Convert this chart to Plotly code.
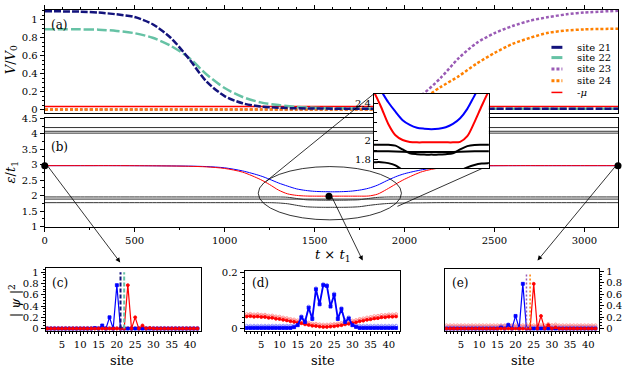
import plotly.graph_objects as go

W, H = 622, 373
FONT = "DejaVu Serif"

# ---------------- panel (a): gate potentials V/V0 against time ----------------
t_a = [0, 200, 300, 400, 500, 600, 700, 800, 900, 1000, 1100, 1200, 1300, 1400, 1500, 1600,
       1700, 1800, 1900, 2000, 2100, 2200, 2300, 2400, 2500, 2600, 2700, 2800, 2900, 3000, 3187]
v_site21 = [1.095, 1.09, 1.08, 1.06, 1.03, 0.95, 0.80, 0.57, 0.31, 0.15, 0.07, 0.035, 0.02, 0.014, 0.012, 0.01,
            0.01, 0.01, 0.01, 0.01, 0.01, 0.01, 0.01, 0.01, 0.01, 0.01, 0.01, 0.01, 0.01, 0.01, 0.01]
v_site22 = [0.895, 0.893, 0.89, 0.875, 0.85, 0.80, 0.71, 0.58, 0.39, 0.24, 0.14, 0.08, 0.05, 0.03, 0.02, 0.015,
            0.012, 0.01, 0.01, 0.01, 0.01, 0.01, 0.01, 0.01, 0.01, 0.01, 0.01, 0.01, 0.01, 0.01, 0.01]
v_site23 = [0.0, 0.0, 0.0, 0.0, 0.0, 0.0, 0.0, 0.0, 0.0, 0.0, 0.0, 0.0, 0.0, 0.0, 0.0, 0.0,
            0.0, 0.0, 0.01, 0.06, 0.17, 0.35, 0.57, 0.74, 0.85, 0.93, 0.99, 1.03, 1.06, 1.08, 1.10]
v_site24 = [0.0, 0.0, 0.0, 0.0, 0.0, 0.0, 0.0, 0.0, 0.0, 0.0, 0.0, 0.0, 0.0, 0.0, 0.0, 0.0,
            0.0, 0.0, 0.01, 0.04, 0.12, 0.25, 0.37, 0.51, 0.63, 0.73, 0.80, 0.855, 0.88, 0.893, 0.90]
t_ends = [0, 3187]
v_mu = [0.035, 0.035]

# ---------------- panel (b): spectrum eps/t1 against time ----------------
t_b = [0, 200, 400, 600, 800, 900, 1000, 1100, 1200, 1250, 1300, 1350, 1400, 1450, 1500, 1550, 1600,
       1650, 1700, 1750, 1800, 1850, 1900, 1950, 2000, 2100, 2200, 2300, 2400, 2600, 2800, 3000, 3187]
eps_blue = [2.97, 2.97, 2.97, 2.965, 2.955, 2.94, 2.90, 2.80, 2.64, 2.53, 2.41, 2.31, 2.22, 2.17, 2.14, 2.13, 2.125,
            2.13, 2.145, 2.18, 2.24, 2.34, 2.48, 2.61, 2.71, 2.84, 2.92, 2.95, 2.965, 2.97, 2.97, 2.97, 2.97]
eps_red = [2.97, 2.97, 2.97, 2.965, 2.95, 2.93, 2.88, 2.76, 2.52, 2.36, 2.18, 2.06, 2.01, 1.99, 1.985, 1.985, 1.985,
           1.985, 1.985, 1.985, 1.99, 2.05, 2.20, 2.37, 2.53, 2.78, 2.90, 2.95, 2.965, 2.97, 2.97, 2.97, 2.97]
eps_band_a = [1.96, 1.96, 1.96, 1.96, 1.96, 1.96, 1.96, 1.96, 1.96, 1.96, 1.96, 1.95, 1.91, 1.87, 1.86, 1.855, 1.855,
              1.855, 1.86, 1.87, 1.91, 1.945, 1.958, 1.96, 1.96, 1.96, 1.96, 1.96, 1.96, 1.96, 1.96, 1.96, 1.96]
eps_band_c = [1.775, 1.775, 1.775, 1.775, 1.775, 1.775, 1.775, 1.775, 1.775, 1.775, 1.765, 1.74, 1.69, 1.645, 1.63,
              1.625, 1.625, 1.625, 1.63, 1.645, 1.685, 1.72, 1.745, 1.76, 1.765, 1.77, 1.775, 1.775, 1.775, 1.775,
              1.775, 1.775, 1.775]
t_band_b = [0, 1300, 1450, 1750, 1900, 3187]
eps_band_b = [1.89, 1.89, 1.882, 1.882, 1.89, 1.89]
eps_upper = [4.20, 4.08, 4.02]
dot_t = [0, 1580, 3187]
dot_eps = [2.97, 1.985, 2.97]

# ---------------- panels (c), (d), (e): |psi|^2 on the chain ----------------
sites = list(range(1, 43))
c_blue = [0, 0, 0, 0, 0, 0, 0, 0, 0, 0, 0, 0, 0, 0.01, 0, 0.055, 0, 0.2, 0, 0.77, 0,
          0, 0, 0, 0, 0, 0, 0, 0, 0, 0, 0, 0, 0, 0, 0, 0, 0, 0, 0, 0, 0]
c_red = [0, 0, 0, 0, 0, 0, 0, 0, 0, 0, 0, 0, 0, 0, 0, 0, 0, 0, 0, 0, 0,
         0, 0.77, 0, 0.2, 0, 0.055, 0, 0.01, 0, 0, 0, 0, 0, 0, 0, 0, 0, 0, 0, 0, 0]
c_blue_open = [0.004, 0.004, 0.004, 0.004, 0.004, 0.004, 0.004, 0.004, 0.004, 0.004, 0.004, 0.004, 0.004, 0.004,
               0.004, 0.004, 0.004, 0.004, 0.004, 0.004, 0.004, 0.004, 0.004, 0.004, 0.004, 0.004, 0.004, 0.004,
               0.004, 0.004, 0.004, 0.004, 0.004, 0.004, 0.004, 0.004, 0.004, 0.004, 0.004, 0.004, 0.004, 0.004]
c_red_open = [0.012, 0.012, 0.012, 0.012, 0.012, 0.012, 0.012, 0.012, 0.012, 0.012, 0.012, 0.012, 0.012, 0.012,
              0.012, 0.012, 0.012, 0.012, 0.012, 0.012, 0.012, 0.012, 0.012, 0.012, 0.012, 0.012, 0.012, 0.012,
              0.012, 0.012, 0.012, 0.012, 0.012, 0.012, 0.012, 0.012, 0.012, 0.012, 0.012, 0.012, 0.012, 0.012]
c_gate_sites = [21, 22]
c_gate_top = 1.0

d_blue = [0.002, 0.002, 0.002, 0.002, 0.002, 0.002, 0.002, 0.002, 0.002, 0.002, 0.002, 0.002, 0.002, 0.005,
          0.012, 0.040, 0.023, 0.074, 0.034, 0.139, 0.086, 0.154, 0.151, 0.078, 0.12, 0.034, 0.069, 0.023,
          0.036, 0.012, 0.006, 0.002, 0.002, 0.002, 0.002, 0.002, 0.002, 0.002, 0.002, 0.002, 0.002, 0.002]
d_blue_open = [0.01, 0.01, 0.01, 0.01, 0.01, 0.01, 0.01, 0.01, 0.01, 0.01, 0.01, 0.01, 0.01, 0.012,
               0.018, 0.044, 0.03, 0.078, 0.04, 0.143, 0.092, 0.158, 0.155, 0.084, 0.124, 0.04, 0.073, 0.03,
               0.04, 0.018, 0.012, 0.01, 0.01, 0.01, 0.01, 0.01, 0.01, 0.01, 0.01, 0.01, 0.01, 0.01]
d_red = [0.043, 0.044, 0.042, 0.043, 0.041, 0.041, 0.038, 0.038, 0.035, 0.034, 0.031, 0.029, 0.026, 0.024,
         0.021, 0.019, 0.015, 0.013, 0.010, 0.009, 0.007, 0.006, 0.006, 0.007, 0.008, 0.010, 0.012, 0.015,
         0.017, 0.020, 0.022, 0.026, 0.028, 0.031, 0.033, 0.036, 0.037, 0.040, 0.040, 0.042, 0.042, 0.043]
d_red_open = [0.051, 0.052, 0.050, 0.051, 0.049, 0.049, 0.046, 0.046, 0.043, 0.042, 0.039, 0.037, 0.034, 0.032,
              0.029, 0.027, 0.023, 0.021, 0.018, 0.017, 0.015, 0.014, 0.014, 0.015, 0.016, 0.018, 0.020, 0.023,
              0.025, 0.028, 0.030, 0.034, 0.036, 0.039, 0.041, 0.044, 0.045, 0.048, 0.048, 0.050, 0.050, 0.051]

e_blue = [0, 0, 0, 0, 0, 0, 0, 0, 0, 0, 0, 0, 0, 0, 0, 0.02, 0, 0.06, 0, 0.22, 0,
          0.78, 0, 0, 0, 0, 0, 0, 0, 0, 0, 0, 0, 0, 0, 0, 0, 0, 0, 0, 0, 0]
e_red = [0, 0, 0, 0, 0, 0, 0, 0, 0, 0, 0, 0, 0, 0, 0, 0, 0, 0, 0, 0, 0,
         0, 0, 0, 0.78, 0, 0.22, 0, 0.06, 0, 0.02, 0, 0, 0, 0, 0, 0, 0, 0, 0, 0, 0]
e_blue_open = [0.028, 0.028, 0.028, 0.028, 0.028, 0.028, 0.028, 0.028, 0.028, 0.028, 0.028, 0.028, 0.028, 0.028,
               0.028, 0.05, 0.045, 0.075, 0.04, 0.028, 0.028, 0.028, 0.028, 0.028, 0.028, 0.028, 0.028, 0.028,
               0.028, 0.028, 0.028, 0.028, 0.028, 0.028, 0.028, 0.028, 0.028, 0.028, 0.028, 0.028, 0.028, 0.028]
e_red_open = [0.056, 0.056, 0.056, 0.056, 0.056, 0.056, 0.056, 0.056, 0.056, 0.056, 0.056, 0.056, 0.056, 0.056,
              0.056, 0.056, 0.056, 0.056, 0.056, 0.056, 0.056, 0.056, 0.056, 0.056, 0.056, 0.056, 0.056, 0.056,
              0.08, 0.06, 0.07, 0.056, 0.056, 0.056, 0.056, 0.056, 0.056, 0.056, 0.056, 0.056, 0.056, 0.056]
e_gate_sites = [23, 24]
e_gate_top = 0.98

legend_labels = ["site 21", "site 22", "site 23", "site 24", "-<i>μ</i>"]

NAVY, TEAL, PURPLE, ORANGE = "#13137c", "#66c2a5", "#9a5bb5", "#ff8000"
BLUE, RED = "#0000ff", "#ff0000"
BLUE_L, RED_L = "#8080ff", "#ff8080"
DARK = "#333333"


def px(x):
    return x / W


def py(y):
    return 1 - y / H


def line(x, y, color, width, xa, ya, dash="solid", shape="spline"):
    return go.Scatter(x=x, y=y, mode="lines", xaxis=xa, yaxis=ya, hoverinfo="skip",
                      line=dict(color=color, width=width, dash=dash, shape=shape, smoothing=0.8))


def psi(y, color, xa, ya, symbol, width=1.2, size=3.5):
    return go.Scatter(x=sites, y=y, mode="lines+markers", xaxis=xa, yaxis=ya, hoverinfo="skip",
                      line=dict(color=color, width=width),
                      marker=dict(color=color, size=size, symbol=symbol, line=dict(color=color, width=0.8)))


fig = go.Figure()

# (a)
fig.add_trace(line(t_ends, v_mu, RED, 1.5, "x", "y"))
fig.add_trace(line(t_a, v_site23, PURPLE, 2.5, "x", "y", dash="3px,2px"))
fig.add_trace(line(t_a, v_site24, ORANGE, 2.5, "x", "y", dash="3px,2px"))
fig.add_trace(line(t_a, v_site22, TEAL, 2.5, "x", "y", dash="10px,3px"))
fig.add_trace(line(t_a, v_site21, NAVY, 2.5, "x", "y", dash="7px,2px"))

# (b)
for lvl in eps_upper:
    fig.add_trace(line(t_ends, [lvl, lvl], DARK, 1, "x2", "y2", shape="linear"))
fig.add_trace(line(t_b, eps_band_a, DARK, 1, "x2", "y2"))
fig.add_trace(line(t_band_b, eps_band_b, DARK, 1, "x2", "y2", shape="linear"))
fig.add_trace(line(t_b, eps_band_c, DARK, 1, "x2", "y2"))
fig.add_trace(line(t_b, eps_blue, BLUE, 1, "x2", "y2"))
fig.add_trace(line(t_b, eps_red, RED, 1, "x2", "y2"))
fig.add_trace(go.Scatter(x=dot_t, y=dot_eps, mode="markers", xaxis="x2", yaxis="y2", cliponaxis=False,
                         hoverinfo="skip", marker=dict(color="black", size=7)))

# (c)
fig.add_trace(psi(c_blue_open, BLUE_L, "x3", "y3", "circle-open", width=0.8, size=3))
fig.add_trace(psi(c_red_open, RED_L, "x3", "y3", "circle-open", width=0.8, size=3))
fig.add_trace(psi(c_blue, BLUE, "x3", "y3", "square", size=3))
fig.add_trace(psi(c_red, RED, "x3", "y3", "circle", size=3))
for s, col in zip(c_gate_sites, [NAVY, TEAL]):
    fig.add_trace(line([s, s], [0, c_gate_top], col, 2, "x3", "y3", dash="4px,2px", shape="linear"))

# (d)
fig.add_trace(psi(d_red_open, RED_L, "x4", "y4", "circle-open", width=0.8, size=3))
fig.add_trace(psi(d_blue_open, BLUE_L, "x4", "y4", "circle-open", width=0.8, size=3))
fig.add_trace(psi(d_red, RED, "x4", "y4", "circle", width=1.3, size=3))
fig.add_trace(psi(d_blue, BLUE, "x4", "y4", "square", width=1.8, size=3))

# (e)
fig.add_trace(psi(e_blue_open, BLUE_L, "x5", "y5", "circle-open", width=0.8, size=3))
fig.add_trace(psi(e_red_open, RED_L, "x5", "y5", "circle-open", width=0.8, size=3))
fig.add_trace(psi(e_blue, BLUE, "x5", "y5", "square", size=3))
fig.add_trace(psi(e_red, RED, "x5", "y5", "circle", size=3))
for s, col in zip(e_gate_sites, [PURPLE, ORANGE]):
    fig.add_trace(line([s, s], [0, e_gate_top], col, 1.5, "x5", "y5", dash="2px,2px", shape="linear"))

# inset: zoom of the avoided crossing
fig.add_trace(line(t_b, eps_band_a, "black", 2, "x6", "y6"))
fig.add_trace(line(t_band_b, eps_band_b, "black", 2, "x6", "y6", shape="linear"))
fig.add_trace(line(t_b, eps_band_c, "black", 2, "x6", "y6"))
fig.add_trace(line(t_b, eps_blue, BLUE, 2, "x6", "y6"))
fig.add_trace(line(t_b, eps_red, RED, 2, "x6", "y6"))

tickfont = dict(family=FONT, size=10, color="black")


def ax(**kw):
    base = dict(showline=True, linecolor="black", linewidth=1, mirror=True, ticks="outside", ticklen=4,
                tickcolor="black", tickwidth=1, showgrid=False, zeroline=False, tickfont=tickfont)
    base.update(kw)
    return base


def minor(d, ticks="outside", ln=2):
    return dict(dtick=d, ticks=ticks, ticklen=ln, tickcolor="black", showgrid=False)


fig.update_layout(
    width=W, height=H, margin=dict(l=0, r=0, t=0, b=0),
    paper_bgcolor="white", plot_bgcolor="white", showlegend=False,
    font=dict(family=FONT, size=10, color="black"),
    xaxis=ax(domain=[px(42), px(619)], range=[0, 3187], anchor="y", side="top", showticklabels=False,
             dtick=500, minor=minor(100)),
    yaxis=ax(domain=[py(111), py(4)], range=[-0.043, 1.11], anchor="x", dtick=0.2, minor=minor(0.05)),
    xaxis2=ax(domain=[px(42), px(619)], range=[0, 3187], anchor="y2", dtick=500, minor=minor(250)),
    yaxis2=ax(domain=[py(228), py(116)], range=[1, 4.5], anchor="x2", dtick=0.5, minor=minor(0.25)),
    xaxis3=ax(domain=[px(43), px(199)], range=[0.58, 42.9], anchor="y3", tick0=0, dtick=5, minor=minor(1)),
    yaxis3=ax(domain=[py(336), py(270.7)], range=[-0.046, 1.074], anchor="x3", dtick=0.2, minor=minor(0.05)),
    xaxis4=ax(domain=[px(243.3), px(399.3)], range=[0.45, 43], anchor="y4", tick0=0, dtick=5, minor=minor(1)),
    yaxis4=ax(domain=[py(336), py(273.3)], range=[-0.0093, 0.2058], anchor="x4", dtick=0.2, minor=minor(0.02)),
    xaxis5=ax(domain=[px(445), px(600)], range=[0.62, 43], anchor="y5", tick0=0, dtick=5, minor=minor(1)),
    yaxis5=ax(domain=[py(336), py(271.7)], range=[-0.046, 1.04], anchor="x5", side="right", dtick=0.2,
              minor=minor(0.05)),
    xaxis6=ax(domain=[px(373.3), px(489)], range=[1200, 2000], anchor="y6", showticklabels=False, ticks=""),
    yaxis6=ax(domain=[py(167.7), py(90.7)], range=[1.71, 2.5], anchor="x6", ticks="inside",
              tickvals=[1.8, 2.0, 2.4], ticktext=["1.8", "2", "2.4"], minor=minor(0.1, "inside", 3)),
)

anns = []


def text(x, y, s, size=12, angle=0, anchor="center"):
    anns.append(dict(x=px(x), y=py(y), xref="paper", yref="paper", text=s, showarrow=False,
                     textangle=angle, xanchor=anchor, yanchor="middle", font=dict(family=FONT, size=size)))


text(57, 20, "(a)")
text(57, 146, "(b)")
text(57, 286, "(c)")
text(259, 286, "(d)")
text(460, 286, "(e)")
text(8, 55, "<i>V</i>/<i>V</i><sub>0</sub>", 13, -90)
text(9, 172, "<i>ε</i>/<i>t</i><sub>1</sub>", 13, -90)
text(332, 258, "<i>t</i> × <i>t</i><sub>1</sub>", 13)
text(12, 304, "| <i>ψ</i> |<sup>2</sup>", 13, -90)
for xc in [120, 322, 523]:
    text(xc, 366, "site", 13)

# legend drawn by hand (tight row spacing)
rows = [42.7, 53.3, 65, 77.3, 89.3]
leg_style = [(NAVY, "solid", 3), (TEAL, "solid", 3), (PURPLE, "3px,2px", 3), (ORANGE, "3px,2px", 3), (RED, "solid", 1.5)]
shapes = []
for lab, yrow, (col, dash, wd) in zip(legend_labels, rows, leg_style):
    shapes.append(dict(type="line", xref="paper", yref="paper", x0=px(552), x1=px(563), y0=py(yrow), y1=py(yrow),
                       line=dict(color=col, width=wd, dash=dash)))
    text(576, yrow, lab, 10, anchor="left")

# ellipse marking the zoomed region and the connectors to the inset
shapes.append(dict(type="circle", xref="x2", yref="y2", x0=1187, x1=1983, y0=1.22, y1=2.94,
                   line=dict(color="black", width=0.8)))
shapes.append(dict(type="line", xref="paper", yref="paper", x0=px(265), y0=py(181), x1=px(373.3), y1=py(90.7),
                   line=dict(color="black", width=0.8)))
shapes.append(dict(type="line", xref="paper", yref="paper", x0=px(397), y0=py(207), x1=px(482), y1=py(168),
                   line=dict(color="black", width=0.8)))

# arrows from the marked times to the snapshots
for (hx, hy), (tx, ty) in [((118, 265), (42, 164)), ((362, 263), (330, 197)), ((538, 263), (619, 165))]:
    anns.append(dict(x=px(hx), y=py(hy), xref="paper", yref="paper", ax=tx - hx, ay=ty - hy,
                     axref="pixel", ayref="pixel", showarrow=True, arrowhead=2, arrowsize=1.2,
                     arrowwidth=0.8, arrowcolor="black", text=""))

fig.update_layout(annotations=anns, shapes=shapes)
fig.write_html("out.html", config={"displayModeBar": False},
               post_script="document.body.style.margin='0';document.body.style.overflow='hidden';")
